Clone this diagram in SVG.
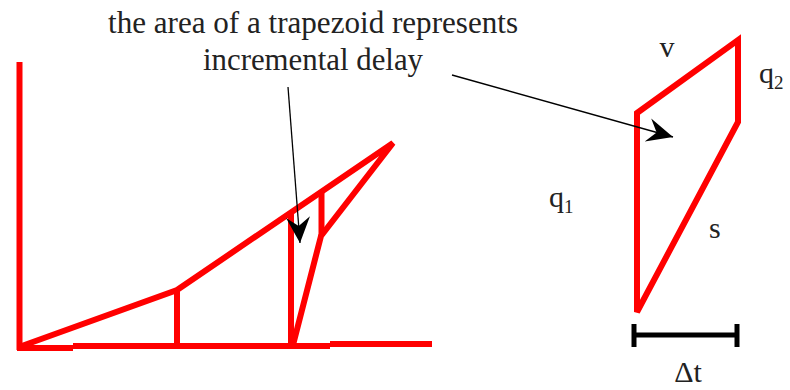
<svg xmlns="http://www.w3.org/2000/svg" width="790" height="390" viewBox="0 0 790 390">
<style>
.red{fill:none;stroke:#ff0000;stroke-width:6;stroke-linejoin:miter;stroke-linecap:butt}
.txt{fill:#222;font-size:30px}
.big{font-size:31px}
.sub{font-size:19px}
.ptr{fill:none;stroke:#000;stroke-width:1.3}
.bar{fill:none;stroke:#000;stroke-width:5}
</style>
<defs>
<marker id="dart" markerUnits="userSpaceOnUse" viewBox="-27 -14 29 28" markerWidth="29" markerHeight="28" refX="0" refY="0" orient="auto">
<path d="M0,0 L-26,-12 L-17,0 L-26,12 Z" fill="#000"/>
</marker>
</defs>
<rect width="790" height="390" fill="#fff"/>
<g id="left-plot">
<line class="red" x1="19.5" y1="62" x2="19.5" y2="350"/>
<line class="red" x1="17" y1="348" x2="73" y2="348"/>
<line class="red" x1="73" y1="346" x2="330" y2="346"/>
<line class="red" x1="330" y1="344" x2="432" y2="344"/>
<polyline class="red" points="19,347 177,290 393,143 321,236 293,345"/>
<line class="red" x1="177" y1="290" x2="177" y2="346"/>
<line class="red" x1="291" y1="213" x2="291" y2="346"/>
<line class="red" x1="321.5" y1="192" x2="321.5" y2="236"/>
</g>
<g id="trapezoid">
<polygon class="red" points="637,113 738,40 738,122 637,312"/>
</g>
<g id="delta-t">
<line class="bar" x1="634" y1="335" x2="737" y2="335"/>
<line class="bar" x1="634" y1="324" x2="634" y2="347"/>
<line class="bar" x1="737" y1="324" x2="737" y2="347"/>
</g>
<g id="connectors">
<path class="ptr" d="M288,87 L300,243" marker-end="url(#dart)"/>
<path class="ptr" d="M452,75 L673,137" marker-end="url(#dart)"/>
</g>
<g id="labels" font-family="Liberation Serif, DejaVu Serif, serif">
<text class="txt big" x="313" y="33" text-anchor="middle" textLength="410" lengthAdjust="spacingAndGlyphs">the area of a trapezoid represents</text>
<text class="txt big" x="313" y="70" text-anchor="middle" textLength="220" lengthAdjust="spacingAndGlyphs">incremental delay</text>
<text class="txt" x="667" y="57" text-anchor="middle">v</text>
<text class="txt" x="759" y="83">q<tspan class="sub" dy="6">2</tspan></text>
<text class="txt" x="549" y="207">q<tspan class="sub" dy="6">1</tspan></text>
<text class="txt" x="709" y="238">s</text>
<text class="txt" x="688" y="382" text-anchor="middle">Δt</text>
</g>
</svg>
